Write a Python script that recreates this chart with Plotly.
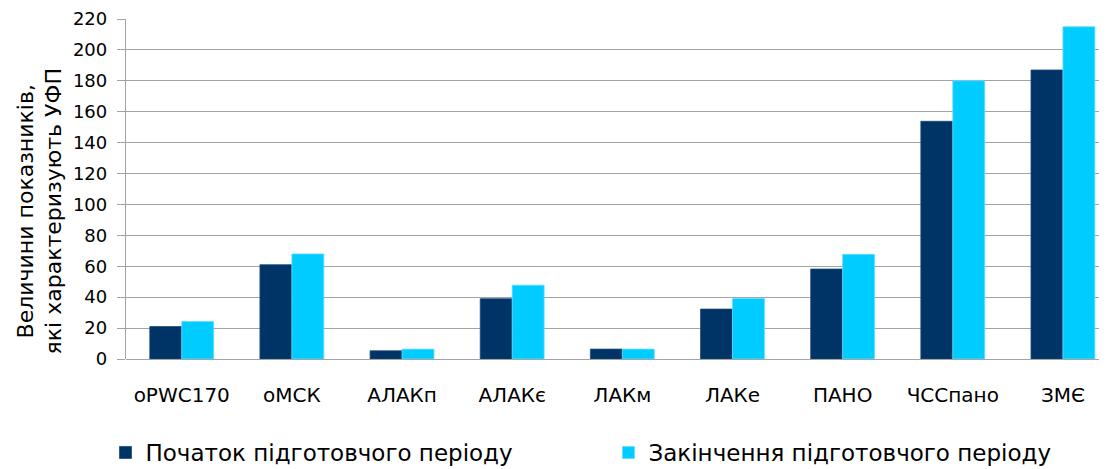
import plotly.graph_objects as go

categories = ["oPWC170", "oМСК", "АЛАКп", "АЛАКє", "ЛАКм", "ЛАКе", "ПАНО", "ЧССпано", "ЗМЄ"]
start_values = [21, 61, 5.3, 39, 6.4, 32.3, 58.2, 153.8, 187]
end_values = [24.3, 68, 6.4, 47.8, 6.4, 39.2, 67.7, 180, 215]
series_names = ["Початок підготовчого періоду", "Закінчення підготовчого періоду"]
y_ticks = list(range(0, 221, 20))
y_title = "Величини показників,<br>які характеризують УФП"

FONT = "DejaVu Sans, Liberation Sans, sans-serif"

fig = go.Figure()
fig.add_trace(go.Bar(x=categories, y=start_values, name=series_names[0],
                     marker=dict(color="#003366", line=dict(color="#1a4a7a", width=0.8))))
fig.add_trace(go.Bar(x=categories, y=end_values, name=series_names[1],
                     marker=dict(color="#00CCFF", line=dict(color="#66DDFF", width=0.8))))

# the page body has an 8px margin, so the figure is 8px smaller and margins compensate
fig.update_layout(
    width=1099, height=461,
    margin=dict(l=118, r=0, t=11, b=109.5, autoexpand=False),
    paper_bgcolor="white", plot_bgcolor="white",
    barmode="group", bargap=0.42, bargroupgap=0,
    font=dict(family=FONT, color="black"),
    showlegend=True,
    legend=dict(orientation="h", x=-0.0209, xanchor="left", y=-0.275, yanchor="middle",
                font=dict(size=23, family=FONT), entrywidth=458, entrywidthmode="pixels",
                itemwidth=30, bgcolor="rgba(0,0,0,0)"),
    annotations=[dict(text=y_title, textangle=-90, xref="paper", yref="paper",
                      x=(40 - 126) / 981, y=0.434, xanchor="center", yanchor="middle",
                      showarrow=False, align="center",
                      font=dict(size=22, family=FONT, color="black"))],
)
fig.update_xaxes(
    type="category", range=[-0.506, 8.40], automargin=False,
    showgrid=False, showline=False, ticks="",
    tickfont=dict(size=20, family=FONT), ticklabelstandoff=22,
)
fig.update_yaxes(
    range=[0, 220], tickvals=y_ticks, ticktext=[str(v) for v in y_ticks], automargin=False,
    showgrid=True, gridcolor="#A3A3A3", gridwidth=1.3,
    showline=True, linecolor="#A3A3A3", linewidth=1.3,
    ticks="outside", ticklen=8, tickcolor="#A3A3A3", tickwidth=1.3,
    tickfont=dict(size=18, family=FONT), ticklabelstandoff=6,
    zeroline=True, zerolinecolor="#A3A3A3", zerolinewidth=1.3,
)

fig.write_html("out.html")
